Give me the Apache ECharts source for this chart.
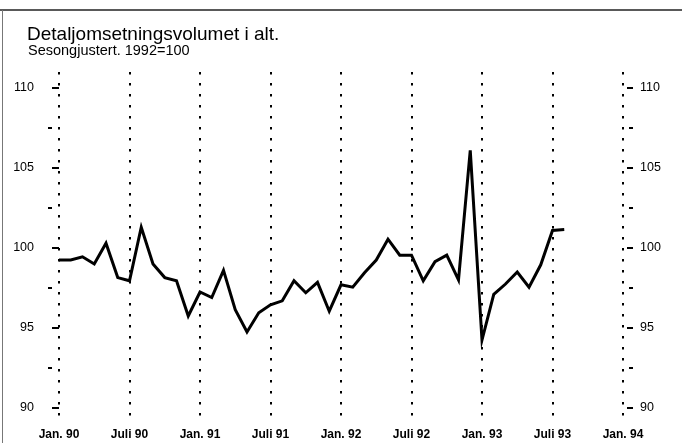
<!DOCTYPE html>
<html>
<head>
<meta charset="utf-8">
<script src="https://cdn.jsdelivr.net/npm/echarts@6/dist/echarts.min.js"></script>
<style>
html,body{margin:0;padding:0;background:#fff;}
#c{width:682px;height:443px;}
</style>
</head>
<body>
<div id="c"></div>
<script>
// Months since Jan. 90 (0 = Jan. 90)
const xTickLabels = ["Jan. 90","Juli 90","Jan. 91","Juli 91","Jan. 92","Juli 92","Jan. 93","Juli 93","Jan. 94"];
const yMajorTicks = [90, 95, 100, 105, 110];
const yMinorTicks = [92.5, 97.5, 102.5, 107.5];
// Monthly values Jan. 90 – Aug. 93
const volume = [
  99.25, 99.25, 99.45, 99.0, 100.3, 98.15, 97.95, 101.3, 99.0, 98.15, 97.95, 95.75,
  97.25, 96.9, 98.6, 96.15, 94.75, 95.95, 96.45, 96.7, 97.95, 97.2, 97.85, 96.05,
  97.7, 97.55, 98.45, 99.25, 100.55, 99.55, 99.55, 97.95, 99.15, 99.55, 98.0, 106.1,
  94.25, 97.1, 97.75, 98.5, 97.55, 98.95, 101.1, 101.15
];

const sans = "'Liberation Sans Narrow','Liberation Sans',Arial,sans-serif";
const chart = echarts.init(document.getElementById('c'), null, {renderer:'canvas'});

function yAx(pos, offset, ticks, len, labels, margin) {
  return {
    type: 'value', position: pos, offset: offset, min: 89, max: 111,
    axisLine: {show: false},
    splitLine: {show: false},
    axisTick: {show: true, length: len, customValues: ticks, lineStyle: {color: '#000', width: 2}},
    axisLabel: labels ? {show: true, customValues: yMajorTicks, margin: margin, color: '#000',
      fontSize: 12.5, fontFamily: sans} : {show: false}
  };
}

chart.setOption({
  animation: false,
  backgroundColor: '#fff',
  title: [
    {text: 'Detaljomsetningsvolumet i alt.', left: 22, top: 20,
     textStyle: {fontSize: 19, fontWeight: 'normal', color: '#000', fontFamily: "'Liberation Sans',Arial,sans-serif"}},
    {text: 'Sesongjustert. 1992=100', left: 23, top: 38,
     textStyle: {fontSize: 14.5, fontWeight: 'normal', color: '#000', fontFamily: "'Liberation Sans',Arial,sans-serif"}}
  ],
  graphic: [
    {type: 'line', shape: {x1: 0, y1: 10, x2: 682, y2: 10}, style: {stroke: '#222', lineWidth: 1.5}},
    {type: 'line', shape: {x1: 2.5, y1: 10, x2: 2.5, y2: 443}, style: {stroke: '#777', lineWidth: 1}}
  ],
  grid: {left: 59, right: 59, top: 72, bottom: 19, containLabel: false},
  xAxis: {
    type: 'value', min: 0, max: 48, interval: 6,
    axisLine: {show: false}, axisTick: {show: false},
    axisLabel: {margin: 5, color: '#000', fontSize: 12, fontWeight: 'bold', fontFamily: sans,
      formatter: v => xTickLabels[Math.round(v / 6)]},
    splitLine: {show: true, lineStyle: {color: '#000', width: 2, type: [2.5, 8.5]}}
  },
  yAxis: [
    yAx('left', 5, yMajorTicks, 7, true, 20),
    yAx('left', 7, yMinorTicks, 4, false),
    yAx('right', 4, yMajorTicks, 6, true, 13),
    yAx('right', 6, yMinorTicks, 4, false)
  ],
  series: [{
    type: 'line', yAxisIndex: 0,
    data: volume.map((v, i) => [i, v]),
    showSymbol: false, symbol: 'none',
    lineStyle: {color: '#000', width: 3, join: 'miter'}
  }]
});
</script>
</body>
</html>
